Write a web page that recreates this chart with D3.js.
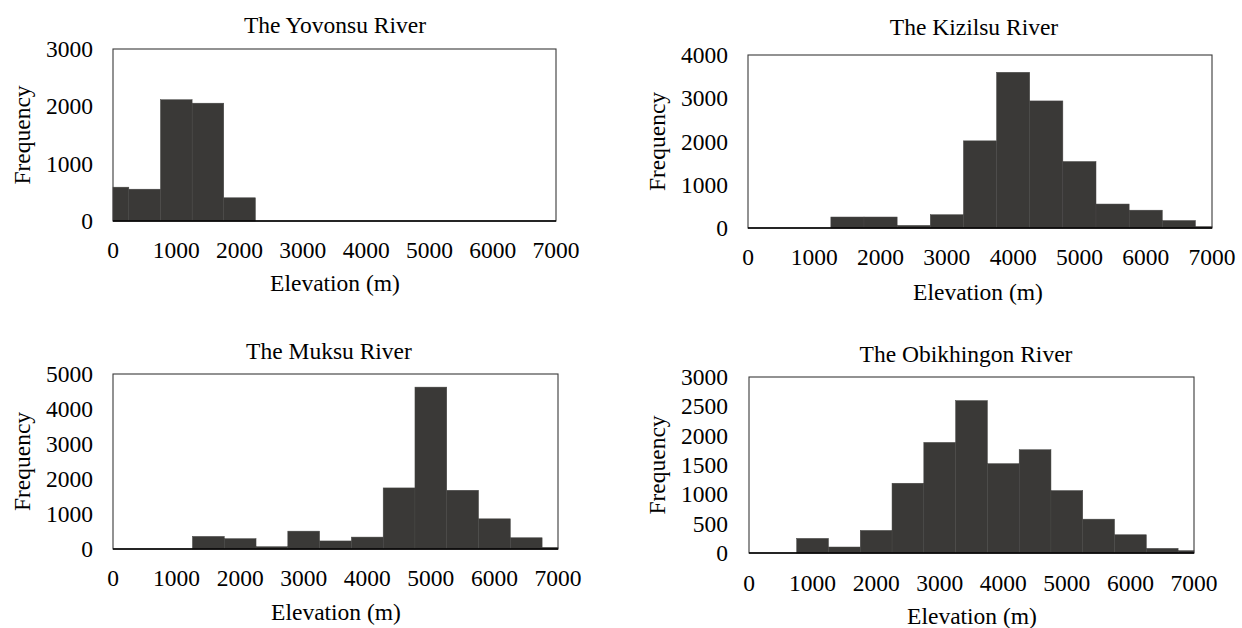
<!DOCTYPE html>
<html>
<head>
<meta charset="utf-8">
<script src="https://cdn.jsdelivr.net/npm/d3@7"></script>
<style>
  html, body { margin: 0; padding: 0; background: #fff; }
</style>
</head>
<body>
<svg id="chart" width="1242" height="628"></svg>
<script>
// ---- Data ----
const binCenters = [0, 500, 1000, 1500, 2000, 2500, 3000, 3500, 4000, 4500, 5000, 5500, 6000, 6500, 7000];
const binWidth = 500;
const xTicks = [0, 1000, 2000, 3000, 4000, 5000, 6000, 7000];

const titles = ["The Yovonsu River", "The Kizilsu River", "The Muksu River", "The Obikhingon River"];

const yovonsu    = [590, 555, 2115, 2055, 405, 0, 0, 0, 0, 0, 0, 0, 0, 0, 0];
const kizilsu    = [0, 0, 0, 254, 254, 60, 307, 2015, 3600, 2938, 1537, 554, 412, 173, 34];
const muksu      = [0, 0, 0, 360, 295, 65, 510, 230, 340, 1745, 4625, 1678, 862, 321, 47];
const obikhingon = [0, 0, 249, 102, 385, 1189, 1885, 2598, 1523, 1760, 1064, 577, 311, 79, 40];

const yMaxes = [3000, 4000, 5000, 3000];
const yTickSteps = [1000, 1000, 1000, 500];

const xLabel = "Elevation (m)";
const yLabel = "Frequency";

// ---- Layout ----
const layouts = [
  { left: 113, right: 556,  top: 49,  bottom: 221, titleX: 335, titleY: 25,  xLabY: 250, xTitleX: 335, xTitleY: 283, freqX: 22,  tickRight: 93 },
  { left: 748, right: 1212, top: 55,  bottom: 228, titleX: 974, titleY: 27,  xLabY: 257, xTitleX: 978, xTitleY: 292, freqX: 657, tickRight: 728 },
  { left: 113, right: 558,  top: 374, bottom: 549, titleX: 329, titleY: 351, xLabY: 578, xTitleX: 336, xTitleY: 612, freqX: 22,  tickRight: 93 },
  { left: 749, right: 1194, top: 377, bottom: 553, titleX: 966, titleY: 354, xLabY: 583, xTitleX: 972, xTitleY: 616, freqX: 657, tickRight: 728 }
];

const series = [yovonsu, kizilsu, muksu, obikhingon];
const svg = d3.select("#chart");
const FS = 23.5;
const FONT = "'Liberation Serif', 'Times New Roman', Tinos, serif";

function txt(sel) {
  return sel.style("font-family", FONT).style("font-size", FS + "px").attr("fill", "#000");
}

series.forEach((vals, i) => {
  const L = layouts[i];
  const x = d3.scaleLinear().domain([0, 7000]).range([L.left, L.right]);
  const y = d3.scaleLinear().domain([0, yMaxes[i]]).range([L.bottom, L.top]);
  const g = svg.append("g");

  // frame
  g.append("rect")
    .attr("x", L.left).attr("y", L.top)
    .attr("width", L.right - L.left).attr("height", L.bottom - L.top)
    .attr("fill", "none").attr("stroke", "#3a3a3a").attr("stroke-width", 1.1);

  // bars
  const data = binCenters.map((c, k) => ({ x0: Math.max(0, c - binWidth / 2), x1: Math.min(7000, c + binWidth / 2), v: vals[k] }))
    .filter(d => d.v > 0);
  g.selectAll("rect.bar").data(data).enter().append("rect")
    .attr("class", "bar")
    .attr("x", d => x(d.x0))
    .attr("width", d => x(d.x1) - x(d.x0))
    .attr("y", d => y(d.v))
    .attr("height", d => y(0) - y(d.v))
    .attr("fill", "#3a3937")
    .attr("stroke", "#474644")
    .attr("stroke-width", 0.5);

  // baseline
  g.append("line")
    .attr("x1", L.left).attr("x2", L.right)
    .attr("y1", y(0)).attr("y2", y(0))
    .attr("stroke", "#000").attr("stroke-width", 1.5);

  // y tick labels
  const yt = d3.range(0, yMaxes[i] + 1, yTickSteps[i]);
  txt(g.selectAll("text.yt").data(yt).enter().append("text"))
    .attr("class", "yt")
    .attr("x", L.tickRight).attr("y", d => y(d))
    .attr("text-anchor", "end").attr("dominant-baseline", "central")
    .text(d => d);

  // x tick labels
  txt(g.selectAll("text.xt").data(xTicks).enter().append("text"))
    .attr("class", "xt")
    .attr("x", d => x(d)).attr("y", L.xLabY)
    .attr("text-anchor", "middle").attr("dominant-baseline", "central")
    .text(d => d);

  // title
  txt(g.append("text"))
    .attr("x", L.titleX).attr("y", L.titleY)
    .attr("text-anchor", "middle").attr("dominant-baseline", "central")
    .text(titles[i]);

  // x axis title
  txt(g.append("text"))
    .attr("x", L.xTitleX).attr("y", L.xTitleY)
    .attr("text-anchor", "middle").attr("dominant-baseline", "central")
    .text(xLabel);

  // y axis title
  const cy = (L.top + L.bottom) / 2;
  txt(g.append("text"))
    .attr("transform", `translate(${L.freqX},${cy}) rotate(-90)`)
    .attr("text-anchor", "middle").attr("dominant-baseline", "central")
    .text(yLabel);
});
</script>
</body>
</html>
